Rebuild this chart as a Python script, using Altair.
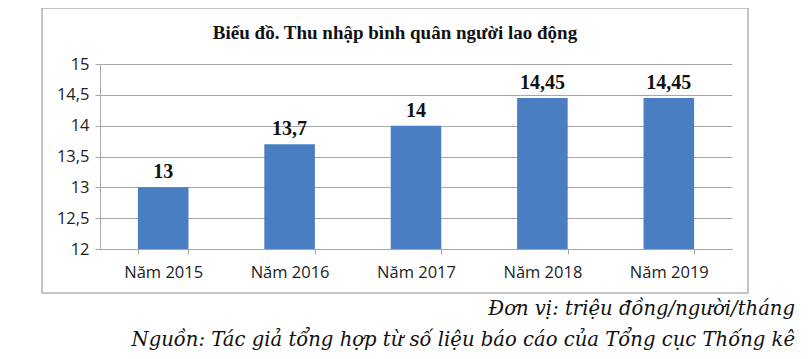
import altair as alt
import pandas as pd

categories = ["Năm 2015", "Năm 2016", "Năm 2017", "Năm 2018", "Năm 2019"]
values = [13.0, 13.7, 14.0, 14.45, 14.45]
title_text = "Biểu đồ. Thu nhập bình quân người lao động"
note_unit = "Đơn vị: triệu đồng/người/tháng"
note_source = "Nguồn: Tác giả tổng hợp từ số liệu báo cáo của Tổng cục Thống kê"

df = pd.DataFrame({"cat": categories, "v": values})

W, H = 632, 185
x = alt.X("cat:N", sort=categories, title=None,
          scale=alt.Scale(paddingInner=0.6, paddingOuter=0.3),
          axis=alt.Axis(labelAngle=0, labelFont="Open Sans", labelFontSize=16.5, labelColor="#222",
                        labelPadding=10, tickBand="extent", tickSize=5, tickColor="#a6a6a6",
                        domainColor="#a6a6a6", grid=False))
y = alt.Y("v:Q", title=None,
          scale=alt.Scale(domain=[12, 15], zero=False, nice=False),
          axis=alt.Axis(values=[12, 12.5, 13, 13.5, 14, 14.5, 15], format="~g",
                        labelExpr="replace(datum.label, '.', ',')",
                        labelFont="Open Sans", labelFontSize=16.5, labelColor="#222",
                        tickSize=5, tickColor="#a6a6a6", domainColor="#a6a6a6",
                        gridColor="#a6a6a6", labelPadding=6))

base = alt.Chart(df)
bars = base.mark_bar(color="#4A7EC2").encode(x=x, y=y, y2=alt.datum(12))
labels = base.transform_calculate(
    lab="replace(format(datum.v, '~g'), '.', ',')"
).mark_text(font="Liberation Serif", fontWeight="bold", fontSize=20, baseline="bottom",
            dy=-5, color="#111").encode(x=x, y=y, text="lab:N")

frame = alt.Chart(pd.DataFrame({"a": [0]})).mark_rect(
    fill=None, stroke="#8c8c8c", strokeWidth=1
).encode(x=alt.value(-58), x2=alt.value(648), y=alt.value(-56), y2=alt.value(229))

title = alt.Chart(pd.DataFrame({"t": [title_text]})).mark_text(
    font="Liberation Serif", fontWeight="bold", fontSize=19, color="#111", baseline="middle"
).encode(x=alt.value(295), y=alt.value(-31), text="t:N")

notes = alt.Chart(pd.DataFrame({"t": [note_unit, note_source], "yy": [251, 282]})).mark_text(
    font="DejaVu Serif", fontStyle="italic", fontSize=19.6, color="#111",
    align="right", baseline="alphabetic"
).encode(x=alt.value(695), y=alt.Y("yy:Q", scale=None, axis=None), text="t:N")

chart = alt.layer(frame, bars, labels, title, notes).properties(
    width=W, height=H,
    autosize=alt.AutoSizeParams(type="none"),
    padding={"left": 92, "top": 56, "right": 69, "bottom": 102},
).configure_view(stroke=None)

chart.save("out.html", embed_options={"renderer": "svg", "actions": False})
